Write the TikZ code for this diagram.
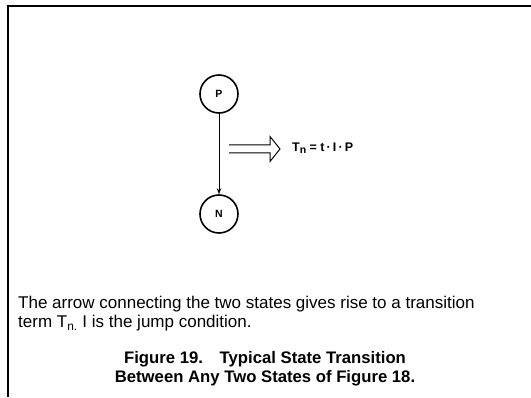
\documentclass[tikz,border=0pt]{standalone}
\usepackage{fontspec}
\setmainfont{Liberation Sans}
\usetikzlibrary{arrows.meta, positioning}

\tikzset{
  state/.style={circle, draw, line width=1.6pt, minimum size=38pt, inner sep=0pt,
    font=\bfseries\fontsize{10.5}{12}\selectfont},
  bigarrow/.style={line width=1pt, line join=miter},
}

\begin{document}
\begin{tikzpicture}[x=1pt, y=1pt, level distance=120pt]
  \useasboundingbox (0,0) rectangle (531,397);
  \draw [line width=2pt] (8,0) -- (8,391) -- (531,391);
                \node [state] (P) at (219,303) {P}
                    child {node [state] (N) {N} edge from parent [line width=0.8pt, -{Stealth[length=6pt, width=4.5pt]}]};
                \coordinate (trans) at (229,248);
                \draw [bigarrow] (trans) ++(0,4) -- ++(41,0) -- ++(0,8.5) -- ++(10,-12.5)
                    -- ++(-10,-12.5) -- ++(0,8.5) -- ++(-41,0);
                \node [anchor=west, inner sep=0pt, font=\bfseries\fontsize{12.5}{14}\selectfont] (term) at (292,249)
                    {T\raisebox{-2pt}{\fontsize{10.5}{10}\selectfont n} = t\,·\,I\,·\,P};
                \node [anchor=north west, align=left, inner sep=0pt, font=\fontsize{17}{19}\selectfont] (note) at (18,101)
                    {The arrow connecting the two states gives rise to a transition\\
                     term T\textsubscript{n.} I is the jump condition.};
                \node [align=center, inner sep=0pt, font=\bfseries\fontsize{16.7}{19}\selectfont] (caption) at (265,28.5)
                    {Figure 19.\quad Typical State Transition\\Between Any Two States of Figure 18.};
            \end{tikzpicture}
\end{document}
